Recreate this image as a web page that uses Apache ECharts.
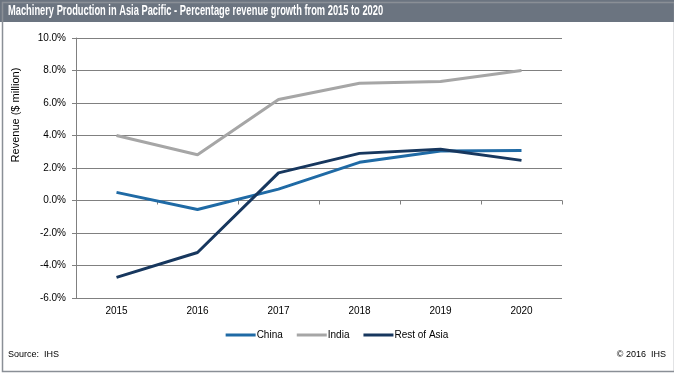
<!DOCTYPE html>
<html><head><meta charset="utf-8">
<script src="https://cdn.jsdelivr.net/npm/echarts@6/dist/echarts.min.js"></script>
<style>html,body{margin:0;padding:0;background:#fff}#c{width:674px;height:374px}</style>
</head><body><div id="c"></div>
<script>
const categories = ['2015','2016','2017','2018','2019','2020'];
const china = [0.5, -0.55, 0.7, 2.35, 3.05, 3.07];
const india = [4.0, 2.82, 6.22, 7.22, 7.32, 8.0];
const restOfAsia = [-4.73, -3.2, 1.7, 2.9, 3.15, 2.47];
const seriesNames = ['China','India','Rest of Asia'];
const colors = ['#1f6aa5','#a6a6a6','#17375e'];

const chart = echarts.init(document.getElementById('c'));
const font = 'Liberation Sans, Arial, sans-serif';
chart.setOption({
  animation: false,
  graphic: [
    {type:'rect', left:0, top:0, shape:{width:674, height:22}, style:{fill:'#6b7480'}},
    {type:'rect', left:0, top:0, shape:{x:0.5,y:0.5,width:672, height:369}, style:{fill:'none', stroke:'#8a8f96', lineWidth:1.5}},
    {type:'text', x:8, y:4, scaleX:0.665, style:{text:'Machinery Production in Asia Pacific - Percentage revenue growth from 2015 to 2020', fill:'#fff', font:'bold 14px ' + font}},
    {type:'text', x:16, y:115, rotation:Math.PI/2, style:{text:'Revenue ($ million)', fill:'#000', font:'11px ' + font, align:'center', verticalAlign:'middle'}},
    {type:'text', left:8, top:350, style:{text:'Source:  IHS', fill:'#000', font:'9px ' + font}},
    {type:'text', right:8, top:350, style:{text:'© 2016  IHS', fill:'#000', font:'9px ' + font}}
  ],
  legend: {
    top: 325, left: 'center',
    itemWidth: 30, itemHeight: 3, itemGap: 14,
    icon: 'rect',
    textStyle: {fontFamily: font, fontSize: 10, color: '#000', padding:[0,0,0,-4]},
    data: seriesNames
  },
  grid: {left: 76, right: 112, top: 38, bottom: 76, containLabel: false},
  xAxis: {
    type: 'category', data: categories, boundaryGap: true,
    axisLine: {lineStyle: {color: '#808080', width: 1}},
    axisTick: {show: true, length: 4, lineStyle:{color:'#808080'}},
    axisLabel: {fontFamily: font, fontSize: 10, color: '#000', margin: 8}
  },
  yAxis: {
    type: 'value', min: -6, max: 10, interval: 2,
    axisLine: {show: true, lineStyle: {color: '#808080'}},
    axisTick: {show: true, length: 4, inside: false, lineStyle:{color:'#808080'}},
    splitLine: {lineStyle: {color: '#808080', width: 1}},
    axisLabel: {fontFamily: font, fontSize: 10, color: '#000', margin: 10, formatter: v => v.toFixed(1) + '%'}
  },
  series: [
    {name: seriesNames[0], type: 'line', data: china, symbol: 'none', lineStyle: {width: 3, color: colors[0]}, itemStyle:{color:colors[0]}},
    {name: seriesNames[1], type: 'line', data: india, symbol: 'none', lineStyle: {width: 3, color: colors[1]}, itemStyle:{color:colors[1]}},
    {name: seriesNames[2], type: 'line', data: restOfAsia, symbol: 'none', lineStyle: {width: 3, color: colors[2]}, itemStyle:{color:colors[2]}}
  ]
});
</script></body></html>
